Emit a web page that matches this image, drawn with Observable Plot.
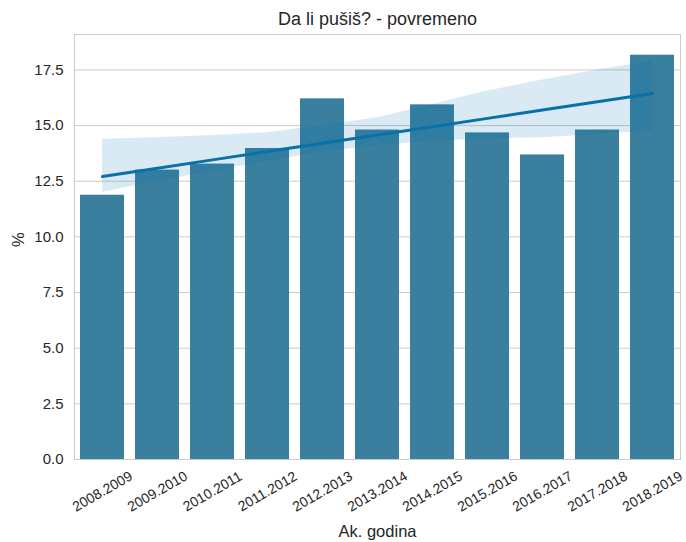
<!DOCTYPE html>
<html>
<head>
<meta charset="utf-8">
<script src="https://cdn.jsdelivr.net/npm/d3@7"></script>
<script src="https://cdn.jsdelivr.net/npm/@observablehq/plot@0.6"></script>
<style>
  html, body { margin: 0; padding: 0; background: #ffffff; }
  #chart { width: 686px; height: 542px; }
</style>
</head>
<body>
<div id="chart"></div>
<script>
// ---- data ----
const years = ["2008.2009", "2009.2010", "2010.2011", "2011.2012", "2012.2013", "2013.2014",
               "2014.2015", "2015.2016", "2016.2017", "2017.2018", "2018.2019"];
const values = [11.87, 13.0, 13.27, 13.97, 16.2, 14.8, 15.93, 14.67, 13.68, 14.8, 18.16];
// bootstrap confidence band of the trend line
const ciLow  = [12.0, 12.5, 12.95, 13.4, 13.8, 14.1, 14.3, 14.4, 14.45, 14.6, 14.75];
const ciHigh = [14.38, 14.45, 14.55, 14.68, 15.0, 15.35, 15.95, 16.55, 17.05, 17.5, 17.9];
const yTicks = [0, 2.5, 5, 7.5, 10, 12.5, 15, 17.5];
const title = "Da li pušiš? - povremeno";
const xLabel = "Ak. godina";
const yLabel = "%";

// ---- least-squares trend through the bar values ----
const idx = d3.range(values.length);
const mx = d3.mean(idx), my = d3.mean(values);
const slope = d3.sum(idx, i => (i - mx) * (values[i] - my)) / d3.sum(idx, i => (i - mx) ** 2);
const intercept = my - slope * mx;

const rows = years.map((year, i) => ({
  year, value: values[i], lo: ciLow[i], hi: ciHigh[i], fit: intercept + slope * i
}));

const font = "'Liberation Sans', Arial, Helvetica, sans-serif";
const ink = "#262626";

const chart = Plot.plot({
  width: 686,
  height: 542,
  marginTop: 34,
  marginBottom: 83,
  marginLeft: 74,
  marginRight: 6,
  style: { fontFamily: font, fontSize: "14px", color: ink, background: "#ffffff" },
  x: { domain: years, paddingInner: 0.2, paddingOuter: 0.1, axis: null },
  y: { domain: [0, 19.09], axis: null },
  marks: [
    Plot.ruleY(yTicks, { stroke: "#cccccc", strokeWidth: 1 }),
    Plot.barY(rows, { x: "year", y: "value", fill: "#3a7f9e" }),
    Plot.areaY(rows, { x: "year", y1: "lo", y2: "hi", fill: "#0173b2", fillOpacity: 0.15 }),
    Plot.line(rows, { x: "year", y: "fit", stroke: "#0a70a8", strokeWidth: 3, strokeLinecap: "round" }),
    Plot.frame({ stroke: "#cccccc", strokeWidth: 1 }),
    Plot.axisY(yTicks, {
      tickSize: 0, tickPadding: 11, tickFormat: d3.format(".1f"),
      fontSize: 15, fill: ink, label: null
    }),
    Plot.text(years, {
      x: d => d, frameAnchor: "bottom", dy: 32, rotate: -30,
      textAnchor: "middle", lineAnchor: "middle", fontSize: 14, fill: ink
    }),
    Plot.text([title], { frameAnchor: "top", dy: -15, lineAnchor: "middle", fontSize: 18, fill: ink }),
    Plot.text([xLabel], { frameAnchor: "bottom", dy: 72, lineAnchor: "middle", fontSize: 16.5, fill: ink }),
    Plot.text([yLabel], { frameAnchor: "left", dx: -56, rotate: -90, lineAnchor: "middle", fontSize: 16.5, fill: ink })
  ]
});

document.getElementById("chart").appendChild(chart);
</script>
</body>
</html>
